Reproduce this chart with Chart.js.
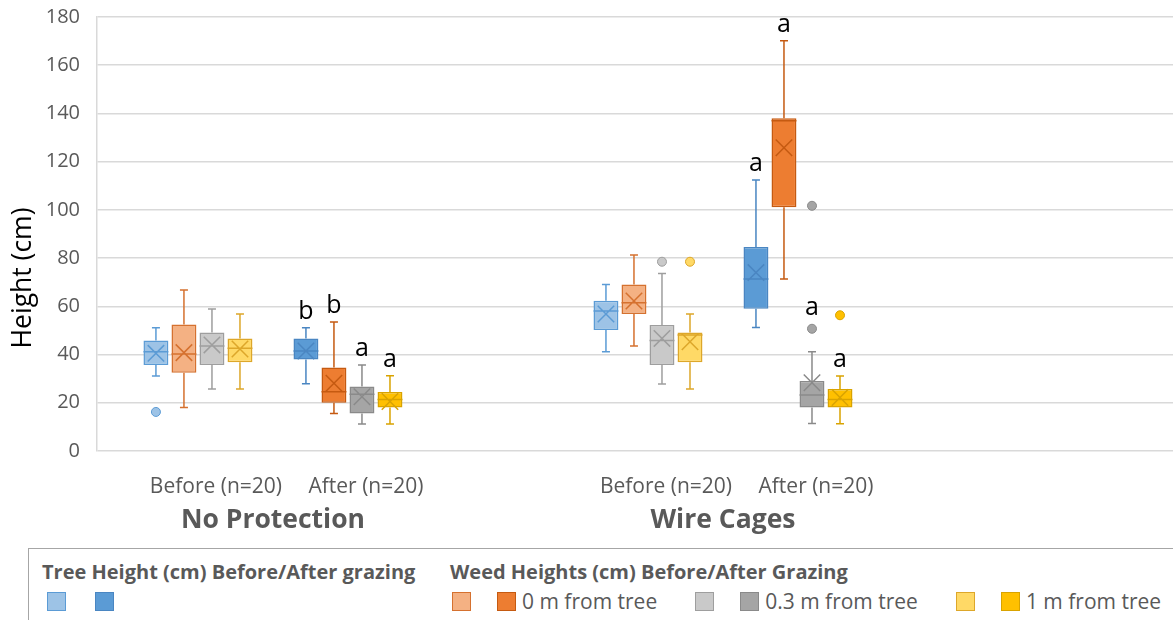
<!DOCTYPE html>
<html lang="en">
<head>
<meta charset="utf-8">
<title>Tree and weed heights before and after grazing</title>
<script src="https://cdn.jsdelivr.net/npm/chart.js@4.4.1/dist/chart.umd.min.js"></script>
<style>
  html, body { margin: 0; padding: 0; background: #fff; }
  body { position: relative; width: 1173px; height: 620px; overflow: hidden; font-family: 'Open Sans', sans-serif; }
  #chartBox { position: absolute; left: 0; top: 0; width: 1173px; height: 539px; }
  #legend { position: absolute; left: 28px; top: 548px; width: 1200px; height: 120px;
            border-top: 1.5px solid #a6a6a6; border-left: 1.5px solid #a6a6a6; color: #595959; }
  .lg-col { position: absolute; top: 9px; }
  .lg-head { font-weight: 700; font-size: 20px; line-height: 28px; white-space: nowrap; }
  .lg-row { display: flex; align-items: center; height: 20px; margin-top: 5px; font-size: 21px; white-space: nowrap; }
  .lg-sw { width: 19px; height: 19px; box-sizing: border-box; border: 1px solid; flex: none; }
</style>
</head>
<body>
<div id="chartBox"><canvas id="boxChart"></canvas></div>
<div id="legend"></div>
<script>
// Categories on the x axis and the two treatment groups under them
const categories = ['Before (n=20)', 'After (n=20)', 'Before (n=20)', 'After (n=20)'];
const groups = ['No Protection', 'Wire Cages'];
const categoryGroup = [0, 0, 1, 1];

// One box per category: [min, q1, median, q3, max, mean, outliers]
const treeBefore = [[31.1, 35.7, 41.2, 45.8, 51.1, 40.5, [16.2]], null, [41.2, 50.2, 58.1, 62.3, 69.1, 56.8, []], null];
const treeAfter = [null, [27.9, 38.0, 41.5, 46.7, 51.1, 41.5, []], null, [51.2, 59.0, 71.3, 84.6, 112.4, 74.0, []]];
const weed0Before = [[18.0, 32.5, 40.2, 52.5, 66.8, 40.8, []], null, [43.6, 56.8, 61.5, 69.1, 81.3, 62.2, []], null];
const weed0After = [null, [15.6, 20.0, 24.6, 34.6, 53.5, 28.1, []], null, [71.3, 101.1, 137.0, 138.0, 170.2, 125.8, []]];
const weed03Before = [[25.7, 35.7, 43.5, 49.1, 58.9, 44.0, []], null, [27.8, 35.7, 45.8, 52.3, 73.6, 46.7, [78.5]], null];
const weed03After = [null, [11.2, 15.6, 23.5, 26.8, 35.7, 22.5, []], null, [11.4, 18.0, 23.2, 29.0, 41.2, 28.3, [50.7, 101.7]]];
const weed1Before = [[25.7, 36.8, 42.6, 46.7, 56.8, 42.3, []], null, [25.7, 36.8, 48.1, 49.1, 56.8, 45.3, [78.5]], null];
const weed1After = [null, [11.2, 18.0, 21.4, 24.5, 31.2, 20.5, []], null, [11.3, 18.0, 21.4, 25.7, 31.1, 22.2, [56.3]]];

// Significance letters after grazing
const treeAfterSig = [null, 'b', null, 'a'];
const weed0AfterSig = [null, 'b', null, 'a'];
const weed03AfterSig = [null, 'a', null, 'a'];
const weed1AfterSig = [null, 'a', null, 'a'];

const series = [
  { label: 'Tree height before grazing', boxes: treeBefore, sig: null, fill: '#9DC3E6', line: '#5B9BD5', text: '' },
  { label: 'Tree height after grazing', boxes: treeAfter, sig: treeAfterSig, fill: '#5B9BD5', line: '#4A86C2', text: '' },
  { label: 'Weeds 0 m before', boxes: weed0Before, sig: null, fill: '#F4B183', line: '#D5712F', text: '' },
  { label: 'Weeds 0 m after', boxes: weed0After, sig: weed0AfterSig, fill: '#ED7D31', line: '#C55A11', text: '0 m from tree' },
  { label: 'Weeds 0.3 m before', boxes: weed03Before, sig: null, fill: '#C9C9C9', line: '#9E9E9E', text: '' },
  { label: 'Weeds 0.3 m after', boxes: weed03After, sig: weed03AfterSig, fill: '#A5A5A5', line: '#8A8A8A', text: '0.3 m from tree' },
  { label: 'Weeds 1 m before', boxes: weed1Before, sig: null, fill: '#FFD966', line: '#DDA72A', text: '' },
  { label: 'Weeds 1 m after', boxes: weed1After, sig: weed1AfterSig, fill: '#FFC000', line: '#D9A300', text: '1 m from tree' }
];

// x position of each category: one empty slot between the two groups
const catPos = categories.map((c, i) => i + categoryGroup[i]);
const groupPos = groups.map((g, gi) => {
  const p = catPos.filter((v, i) => categoryGroup[i] === gi);
  return p.reduce((a, b) => a + b, 0) / p.length;
});

Chart.defaults.font.family = "'Open Sans', sans-serif";
Chart.defaults.color = '#595959';

// Whiskers, median, mean cross, outliers and letters on top of the floating bars
const boxPlotPlugin = {
  id: 'boxPlot',
  afterDatasetsDraw(chart) {
    const ctx = chart.ctx;
    const yScale = chart.scales.y;
    const py = v => yScale.getPixelForValue(v);
    chart.data.datasets.forEach((ds, di) => {
      const meta = chart.getDatasetMeta(di);
      ds.stats.forEach((b, i) => {
        if (!b) return;
        const bar = meta.data[i];
        const x = bar.x, w = bar.width;
        const cap = 4, h = w * 0.33;
        ctx.save();
        ctx.strokeStyle = ds.borderColor;
        ctx.lineWidth = 1.5;
        ctx.beginPath();
        // upper whisker
        ctx.moveTo(x, py(b[3])); ctx.lineTo(x, py(b[4]));
        ctx.moveTo(x - cap, py(b[4])); ctx.lineTo(x + cap, py(b[4]));
        // lower whisker
        ctx.moveTo(x, py(b[1])); ctx.lineTo(x, py(b[0]));
        ctx.moveTo(x - cap, py(b[0])); ctx.lineTo(x + cap, py(b[0]));
        // median
        ctx.moveTo(x - w / 2, py(b[2])); ctx.lineTo(x + w / 2, py(b[2]));
        // mean cross
        const ym = py(b[5]);
        ctx.moveTo(x - h, ym - h); ctx.lineTo(x + h, ym + h);
        ctx.moveTo(x - h, ym + h); ctx.lineTo(x + h, ym - h);
        ctx.stroke();
        // outliers
        ctx.lineWidth = 1;
        ctx.fillStyle = ds.backgroundColor;
        b[6].forEach(o => {
          ctx.beginPath();
          ctx.arc(x, py(o), 4.5, 0, Math.PI * 2);
          ctx.fill();
          ctx.stroke();
        });
        // letter above the whisker, or above an outlier sitting just over it
        if (ds.sig && ds.sig[i]) {
          let anchor = py(b[4]);
          const near = b[6].filter(o => o > b[4] && o - b[4] < 12);
          if (near.length) anchor = py(Math.min(...near)) - 4.5;
          ctx.fillStyle = '#000';
          ctx.font = "25px 'Open Sans', sans-serif";
          ctx.textAlign = 'center';
          ctx.textBaseline = 'alphabetic';
          ctx.fillText(ds.sig[i], x, anchor - 9);
        }
        ctx.restore();
      });
    });
  }
};

// Axis title centred over plot plus category labels, like the original
const yTitlePlugin = {
  id: 'yTitle',
  afterDraw(chart) {
    const ctx = chart.ctx;
    const cy = (chart.chartArea.top + chart.scales.x2.bottom) / 2;
    ctx.save();
    ctx.translate(chart.scales.y.left + 23, cy);
    ctx.rotate(-Math.PI / 2);
    ctx.fillStyle = '#000';
    ctx.font = "26.5px 'Open Sans', sans-serif";
    ctx.textAlign = 'center';
    ctx.textBaseline = 'middle';
    ctx.fillText('Height (cm)', 0, 0);
    ctx.restore();
  }
};

new Chart(document.getElementById('boxChart'), {
  type: 'bar',
  data: {
    datasets: series.map(s => ({
      label: s.label,
      data: s.boxes.map((b, i) => ({ x: catPos[i], y: b ? [b[1], b[3]] : null })),
      stats: s.boxes,
      sig: s.sig,
      backgroundColor: s.fill,
      borderColor: s.line,
      borderWidth: 1.5,
      borderSkipped: false,
      skipNull: true,
      categoryPercentage: 0.747,
      barPercentage: 0.89
    }))
  },
  options: {
    responsive: true,
    maintainAspectRatio: false,
    animation: false,
    layout: { padding: { top: 17, right: 0, bottom: 0, left: 0 } },
    plugins: {
      legend: { display: false },
      tooltip: { enabled: false }
    },
    scales: {
      x: {
        type: 'linear',
        position: 'bottom',
        weight: 0,
        min: -0.673,
        max: 6.5,
        offset: false,
        grid: { display: false, drawTicks: false },
        border: { display: false },
        afterBuildTicks: scale => { scale.ticks = catPos.map(v => ({ value: v })); },
        afterFit: scale => { scale.height = 48; },
        ticks: {
          autoSkip: false,
          maxRotation: 0,
          padding: 23,
          labelOffset: 18,
          font: { size: 21 },
          color: '#595959',
          callback: value => categories[catPos.indexOf(value)]
        }
      },
      x2: {
        type: 'linear',
        position: 'bottom',
        weight: 1,
        display: true,
        min: -0.673,
        max: 6.5,
        offset: false,
        grid: { display: false, drawTicks: false },
        border: { display: false },
        afterBuildTicks: scale => { scale.ticks = groupPos.map(v => ({ value: v })); },
        afterFit: scale => { scale.height = 40; },
        ticks: {
          autoSkip: false,
          maxRotation: 0,
          padding: 6,
          font: { size: 26.5, weight: 'bold' },
          color: '#595959',
          callback: value => groups[groupPos.indexOf(value)]
        }
      },
      y: {
        min: 0,
        max: 180,
        afterFit: scale => {
          scale.width = 97;
          scale.paddingTop = 0;
          scale.paddingBottom = 0;
        },
        grid: { color: '#d9d9d9', lineWidth: 1.5, drawTicks: false },
        border: { display: true, color: '#d9d9d9', width: 1.5 },
        ticks: { stepSize: 20, padding: 17, font: { size: 20 }, color: '#595959' }
      }
    }
  },
  plugins: [boxPlotPlugin, yTitlePlugin]
});

// Legend in two blocks, light/dark swatch pairs like the original
const legendCols = [
  { head: 'Tree Height (cm) Before/After grazing', left: 13, indent: 5, gap: 29, pairs: [[0, 1]] },
  { head: 'Weed Heights (cm) Before/After Grazing', left: 421, indent: 2, gap: 26, pairs: [[2, 3], [4, 5], [6, 7]] }
];
const legendEl = document.getElementById('legend');
legendCols.forEach(col => {
  const c = document.createElement('div');
  c.className = 'lg-col';
  c.style.left = col.left + 'px';
  const head = document.createElement('div');
  head.className = 'lg-head';
  head.textContent = col.head;
  c.appendChild(head);
  const row = document.createElement('div');
  row.className = 'lg-row';
  row.style.paddingLeft = col.indent + 'px';
  col.pairs.forEach((pair, pi) => {
    pair.forEach((si, k) => {
      const sw = document.createElement('div');
      sw.className = 'lg-sw';
      sw.style.background = series[si].fill;
      sw.style.borderColor = series[si].line;
      if (k === 1) sw.style.marginLeft = col.gap + 'px';
      else if (pi > 0) sw.style.marginLeft = '38px';
      row.appendChild(sw);
    });
    const txt = series[pair[1]].text;
    if (txt) {
      const t = document.createElement('span');
      t.textContent = txt;
      t.style.marginLeft = '6px';
      row.appendChild(t);
    }
  });
  c.appendChild(row);
  legendEl.appendChild(c);
});
</script>
</body>
</html>
